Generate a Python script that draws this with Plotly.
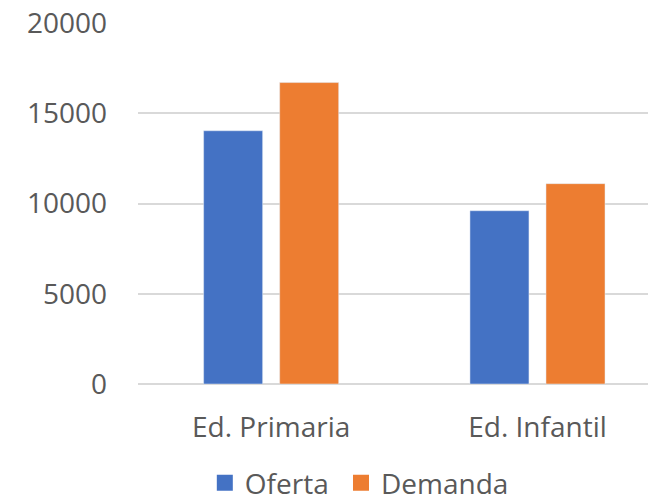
import plotly.graph_objects as go

categories = ["Ed. Primaria", "Ed. Infantil"]
series_names = ["Oferta", "Demanda"]
oferta = [14030, 9600]
demanda = [16700, 11100]
y_ticks = [0, 5000, 10000, 15000, 20000]
colors = ["#4472C4", "#ED7D31"]

FONT = "Open Sans"
TXT = "#595959"
FS = 28

fig = go.Figure()
for name, vals, col in zip(series_names, [oferta, demanda], colors):
    fig.add_trace(go.Bar(name=name, x=categories, y=vals, marker_color=col,
                         showlegend=False, legendgroup=name))
for i, (name, col) in enumerate(zip(series_names, colors)):
    label = name + ("\u00a0" if i == 0 else "")
    fig.add_trace(go.Scatter(name=label, x=[None], y=[None], mode="markers",
                             marker=dict(symbol="square", size=19, color=col),
                             showlegend=True, legendgroup=name))

fig.update_layout(
    width=648, height=501,
    margin=dict(l=138, r=0, t=23, b=117, pad=0, autoexpand=False),
    paper_bgcolor="white", plot_bgcolor="white",
    barmode="group", bargap=0.429, bargroupgap=0.224,
    font=dict(family=FONT, size=FS, color=TXT),
    legend=dict(orientation="h", x=0.131, xanchor="left", y=-0.205, yanchor="top",
                font=dict(family=FONT, size=FS, color=TXT), itemwidth=30,
                traceorder="normal"),
)
fig.update_xaxes(range=[-0.5, 1.415], showgrid=False, showline=False, ticks="",
                 tickfont=dict(family=FONT, size=FS, color=TXT), ticklabelstandoff=24)
fig.update_yaxes(range=[0, 20000], tickvals=y_ticks, ticktext=[str(v) for v in y_ticks],
                 showgrid=True, gridcolor="#D9D9D9", gridwidth=1.5,
                 zeroline=True, zerolinecolor="#D9D9D9", zerolinewidth=1.5,
                 showline=False, ticks="",
                 tickfont=dict(family=FONT, size=FS, color=TXT), ticklabelstandoff=30)

fig.write_html("out.html", config={"displayModeBar": False},
               post_script="document.body.style.margin='0px';")
